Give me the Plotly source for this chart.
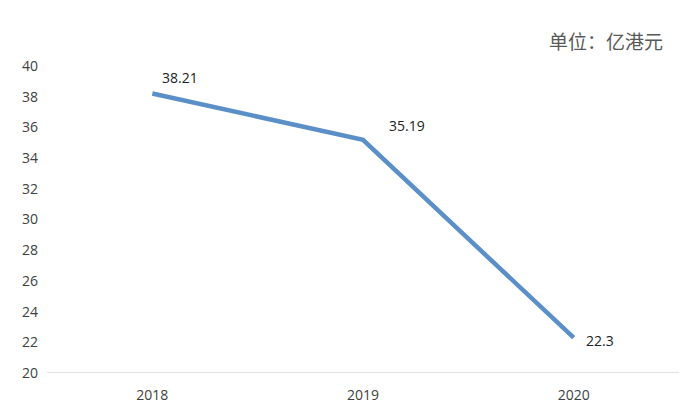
import plotly.graph_objects as go

# data
years = ['2018', '2019', '2020']
values = [38.21, 35.19, 22.3]
value_labels = ['38.21', '35.19', '22.3']
y_ticks = [20, 22, 24, 26, 28, 30, 32, 34, 36, 38, 40]

fig = go.Figure()
fig.add_trace(go.Scatter(
    x=years, y=values,
    mode='lines',
    line=dict(color='#5B8FC7', width=4.5),
    hoverinfo='x+y'
))

# data labels, offset up/right like the original
offsets = [(8, 16), (24, 14), (10, -3)]
for i, (v, lab, (dx, dy)) in enumerate(zip(values, value_labels, offsets)):
    fig.add_annotation(
        x=i, y=v, text=lab, showarrow=False,
        xanchor='left', yanchor='middle',
        xshift=dx, yshift=dy,
        font=dict(size=14, color='#222222', family='Open Sans, Noto Sans')
    )

fig.add_annotation(
    x=1, y=1, xref='paper', yref='paper',
    text='单位：亿港元', showarrow=False,
    xanchor='right', yanchor='bottom',
    xshift=-14, yshift=10,
    font=dict(size=19, color='#595959', family='Noto Sans CJK SC')
)

# the page body adds an 8px offset, so margins are trimmed to compensate
fig.update_layout(
    width=700, height=420,
    margin=dict(l=39, r=29, t=58, b=55),
    plot_bgcolor='white', paper_bgcolor='white',
    showlegend=False,
    font=dict(family='Open Sans, Noto Sans', size=14, color='#404040'),
    xaxis=dict(
        type='category', range=[-0.5, 2.5],
        showgrid=False, zeroline=False, showline=False,
        ticks='', tickfont=dict(size=14, color='#404040'),
        ticklabelstandoff=12,
    ),
    yaxis=dict(
        range=[20, 40], tickvals=y_ticks,
        showgrid=False, zeroline=False, showline=False,
        ticks='', tickfont=dict(size=14, color='#404040'),
        ticklabelstandoff=8,
    ),
)

# baseline at y = 20
fig.add_shape(type='line', xref='paper', yref='y', x0=0, x1=1, y0=20, y1=20,
              line=dict(color='#D9D9D9', width=1.5))

fig.write_html("out.html")
